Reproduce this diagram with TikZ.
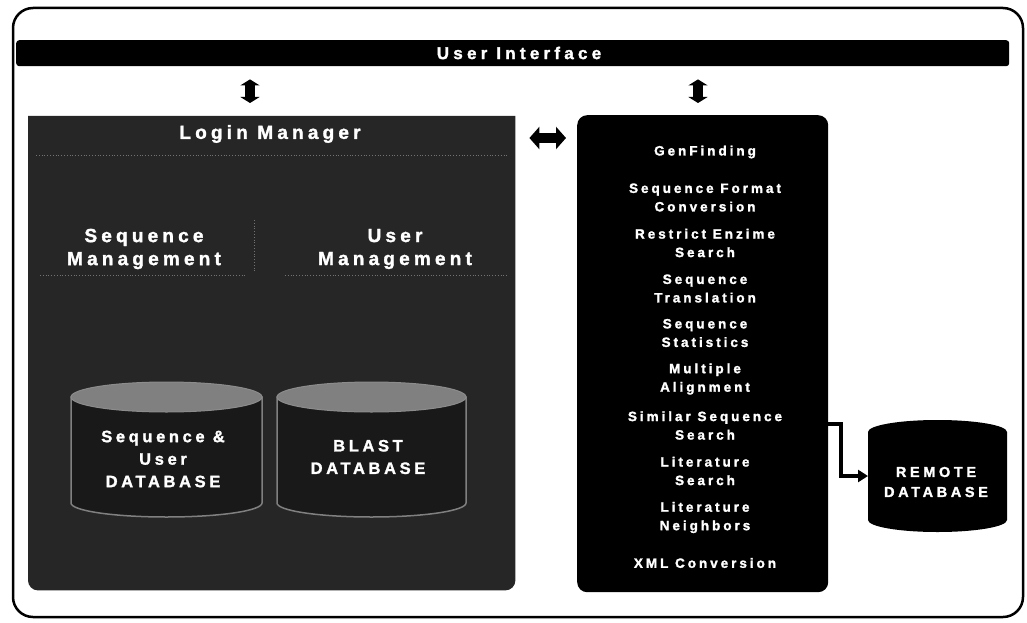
\documentclass[tikz,border=0pt]{standalone}
\usepackage{fontspec}
\setmainfont{Liberation Sans}
\newfontfamily\lspA[LetterSpace=22, FakeBold=1.6]{Liberation Sans}
\newfontfamily\lspB[LetterSpace=25, FakeBold=1.6]{Liberation Sans}
\usetikzlibrary{arrows.meta}
\begin{document}
\begin{tikzpicture}[x=1pt,y=-1pt,
  lbl/.style={text=white, align=center, inner sep=0pt},
  fUI/.style={lbl, font=\lspB\bfseries\fontsize{17}{20}\selectfont},
  fBig/.style={lbl, font=\lspA\bfseries\fontsize{19}{23}\selectfont},
  fDB/.style={lbl, font=\lspA\bfseries\fontsize{16.5}{22.5}\selectfont},
  fSvc/.style={lbl, font=\lspA\bfseries\fontsize{13.5}{18.5}\selectfont},
  fRem/.style={lbl, font=\lspB\bfseries\fontsize{14.5}{20}\selectfont},
  panel/.style={inner sep=0pt, anchor=north west, draw=none},
  vdarrow/.style={line width=10pt, {Triangle[width=19pt,length=6pt]}-{Triangle[width=19pt,length=6pt]}},
  hdarrow/.style={line width=10pt, {Triangle[width=22pt,length=10pt]}-{Triangle[width=22pt,length=10pt]}},
  conn/.style={line width=3.5pt, -{Triangle[width=12pt,length=10pt]}},
  sep/.style={black!55, dotted, line width=0.8pt},
  cylbody/.style={fill=black!90, draw=black!50, line width=1.5pt},
  cyltop/.style={fill=black!50, draw=black!45, line width=1pt}
]
\useasboundingbox (0,0) rectangle (1027,623);
% outer frame
\draw[line width=2.5pt, rounded corners=20pt] (13,8) rectangle (1023,617);

% user interface bar
\node[panel, fill=black, rounded corners=3pt, minimum width=993pt, minimum height=26pt] (ui) at (16,40) {};
\node[fUI] (uitxt) at (519,53) {User Interface};

% login manager panel
\node[panel, minimum width=487pt, minimum height=474pt] (login) at (28,116) {};
\fill[black!85] (login.north west) -- (login.north east) [rounded corners=10pt] -- (login.south east) -- (login.south west) [sharp corners] -- cycle;
\node[fBig] (logintxt) at (270,134) {Login Manager};
\draw[sep] (36,155) -- (507,155);
\draw[sep] (40,275) -- (245,275);
\draw[sep] (285,275) -- (507,275);
\draw[sep] (254,220) -- (254,272);
\node[fBig] (seqm) at (144,249) {Sequence\\Management};
\node[fBig] (userm) at (395,249) {User\\Management};

% cylinders in login panel
\path[cylbody] (71,397) -- (71,503) arc[start angle=180, end angle=360, x radius=95.5pt, y radius=14pt] -- (262,397) -- cycle;
\path[cyltop] (166.5,397) ellipse[x radius=95.5pt, y radius=15pt];
\path[cylbody] (277,397) -- (277,503) arc[start angle=180, end angle=360, x radius=94.5pt, y radius=14pt] -- (466,397) -- cycle;
\path[cyltop] (371.5,397) ellipse[x radius=94.5pt, y radius=15pt];
\node[fDB] (seqdb) at (163,459) {Sequence \&\\User\\DATABASE};
\node[fDB] (blastdb) at (368,457) {BLAST\\DATABASE};

% services panel
\node[panel, fill=black, rounded corners=10pt, minimum width=251pt, minimum height=477pt] (rp) at (577,115) {};
\node[fSvc] (s1) at (705,152) {GenFinding};
\node[fSvc] (s2) at (705,197.5) {Sequence Format\\Conversion};
\node[fSvc] (s3) at (705,243) {Restrict Enzime\\Search};
\node[fSvc] (s4) at (705,288.5) {Sequence\\Translation};
\node[fSvc] (s5) at (705,333) {Sequence\\Statistics};
\node[fSvc] (s6) at (705,379) {Multiple\\Alignment};
\node[fSvc] (s7) at (705,425.5) {Similar Sequence\\Search};
\node[fSvc] (s8) at (705,471) {Literature\\Search};
\node[fSvc] (s9) at (705,517.5) {Literature\\Neighbors};
\node[fSvc] (s10) at (705,563) {XML Conversion};

% remote database cylinder
\path[fill=black] (868,432) -- (868,520) arc[start angle=180, end angle=360, x radius=69.5pt, y radius=12pt] -- (1007,432) arc[start angle=0, end angle=180, x radius=69.5pt, y radius=12pt] -- cycle;
\node[fRem] (remote) at (936,482) {REMOTE\\DATABASE};
\coordinate (remw) at (868,476);
\coordinate (rpout) at (828,424);

% arrows
\draw[vdarrow, shorten <=13pt, shorten >=13pt] (ui.south -| 250,0) -- (login.north -| 250,0);
\draw[vdarrow, shorten <=13pt, shorten >=12pt] (ui.south -| 698,0) -- (rp.north -| 698,0);
\draw[hdarrow, shorten <=14pt, shorten >=11pt] (login.east |- 0,138) -- (rp.west |- 0,138);
\draw[conn] (rpout) -- ++(13,0) |- (remw);
\end{tikzpicture}
\end{document}
